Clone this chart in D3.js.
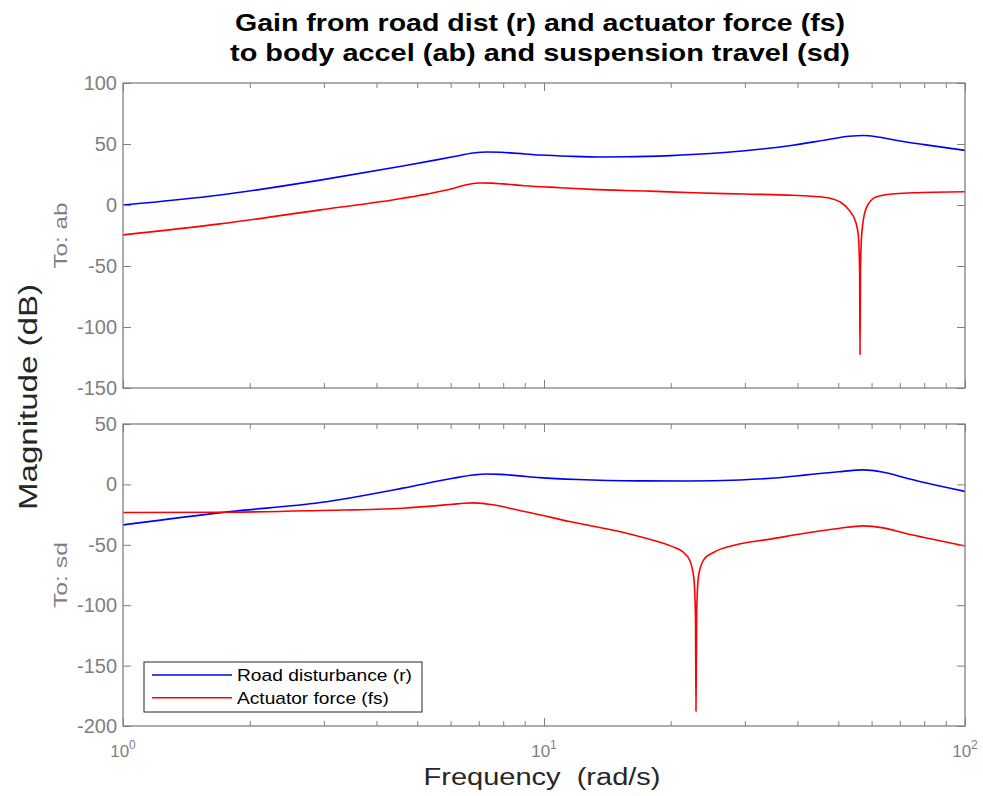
<!DOCTYPE html>
<html>
<head>
<meta charset="utf-8">
<script src="https://cdn.jsdelivr.net/npm/d3@7"></script>
<style>
  html, body { margin: 0; padding: 0; background: #fff; }
  svg { display: block; font-family: "Liberation Sans", Arial, Helvetica, sans-serif; }
</style>
</head>
<body>
<svg id="chart" width="983" height="796"></svg>
<script>
// ---------------- data ----------------
const titleLines = ["Gain from road dist (r) and actuator force (fs)",
                    "to body accel (ab) and suspension travel (sd)"];
const seriesNames = ["Road disturbance (r)", "Actuator force (fs)"];
const rowLabels = ["To: ab", "To: sd"];
const xLabel = "Frequency \u00a0(rad/s)";
const yLabel = "Magnitude (dB)";

const xMajorTicks = [1, 10, 100];
const xMajorExponents = ["0", "1", "2"];
const xMinorTicks = [2, 3, 4, 5, 6, 7, 8, 9, 20, 30, 40, 50, 60, 70, 80, 90];
const yTicksTop = [-150, -100, -50, 0, 50, 100];
const yTicksBottom = [-200, -150, -100, -50, 0, 50];

// To: ab, from r
const freqAbR = [1, 1.7, 2.94, 4.62, 6.08, 6.8, 7.3, 7.9, 8.5, 9.8, 11.5, 13.6, 15.7, 20, 24.8, 30, 39, 47, 53, 57.4, 62, 70, 80, 100];
const magAbR  = [0, 8.2, 20.4, 31.9, 39.5, 42.6, 43.4, 43.2, 42.5, 41, 40, 39.4, 39.5, 40.5, 42.2, 44.5, 49, 53.5, 56.3, 57, 55.8, 52.5, 49.5, 44.8];
// To: ab, from fs
const freqAbF = [1, 1.7, 2.94, 4.62, 6.08, 6.6, 7.05, 7.5, 8, 9, 10.9, 13, 17.8, 22.7, 30, 39, 44, 47.8, 50.5, 53, 55.0, 55.8, 56.2, 56.3, 56.45, 56.9, 58.2, 61.4, 67, 75, 100];
const magAbF  = [-24.5, -15.5, -4, 5.5, 13.6, 16.8, 18.0, 17.9, 17.3, 15.8, 14.2, 12.8, 11.4, 10, 9, 8, 7, 5.5, 2.5, -4, -14, -25, -55, -122.5, -55, -22, -3, 6.5, 9, 10, 10.9];
// To: sd, from r
const freqSdR = [1, 1.8, 2.94, 4.62, 6.08, 6.8, 7.3, 7.9, 8.5, 9.78, 12, 16.9, 22, 29.2, 36, 42, 50, 57.4, 64, 72, 80, 100];
const magSdR  = [-33.5, -22.5, -15, -3.1, 5.1, 7.8, 8.6, 8.3, 7.5, 5.6, 4, 2.9, 2.8, 3.7, 5.5, 7.9, 10.5, 12, 10, 5.5, 1.5, -5.8];
// To: sd, from fs
const freqSdF = [1, 1.8, 2.94, 4.62, 6.08, 6.45, 6.78, 7.15, 7.5, 8.5, 9.78, 11.5, 13, 15.1, 17, 18.5, 20.2, 21.3, 22.2, 22.7, 22.9, 22.96, 23.05, 23.3, 24, 25.2, 28.6, 34.5, 42, 50, 57.4, 64, 72, 80, 100];
const magSdF  = [-23.3, -23, -21.6, -19.7, -16.4, -15.6, -15.3, -15.7, -16.7, -20.5, -25.2, -30.7, -34.5, -39, -43.5, -47, -51.5, -55.5, -63, -78, -110, -187.8, -105, -75, -62, -56.6, -50, -45.3, -40.3, -36.5, -34.3, -36, -40.5, -44, -51];

const colors = ["#0000ff", "#ff0000"];

// ---------------- layout ----------------
const svg = d3.select("#chart");
const left = 123, right = 965;
const panels = [
  { top: 83, bottom: 388, domain: [-150, 100], ticks: yTicksTop, label: rowLabels[0],
    series: [[freqAbR, magAbR], [freqAbF, magAbF]], xLabels: false },
  { top: 424, bottom: 726, domain: [-200, 50], ticks: yTicksBottom, label: rowLabels[1],
    series: [[freqSdR, magSdR], [freqSdF, magSdF]], xLabels: true }
];

const x = d3.scaleLog().domain([1, 100]).range([left, right]);
const axisColor = "#808080";
const textGray = "#7f7f7f";

// title
titleLines.forEach((t, i) => {
  svg.append("text")
    .attr("x", 540).attr("y", 31 + i * 30)
    .attr("text-anchor", "middle")
    .attr("font-size", 24).attr("font-weight", "bold").attr("fill", "#000")
    .attr("textLength", i === 0 ? 610 : 620).attr("lengthAdjust", "spacingAndGlyphs")
    .text(t);
});

panels.forEach(p => {
  const y = d3.scaleLinear().domain(p.domain).range([p.bottom, p.top]);
  const g = svg.append("g");

  const clipId = "clip" + p.top;
  svg.append("clipPath").attr("id", clipId)
    .append("rect").attr("x", left).attr("y", p.top).attr("width", right - left).attr("height", p.bottom - p.top);

  const line = d3.line().x(d => x(d[0])).y(d => y(d[1])).curve(d3.curveMonotoneX);
  p.series.forEach((s, i) => {
    const pts = s[0].map((f, k) => [f, s[1][k]]);
    g.append("path").datum(pts)
      .attr("d", line)
      .attr("fill", "none")
      .attr("stroke", colors[i])
      .attr("stroke-width", 1.6)
      .attr("stroke-linejoin", "round")
      .attr("clip-path", `url(#${clipId})`);
  });

  const yl = g.append("g").attr("transform", `translate(${left},0)`)
    .call(d3.axisLeft(y).tickValues(p.ticks).tickSizeInner(-8).tickSizeOuter(0).tickPadding(6).tickFormat(d => String(d)));
  yl.select(".domain").remove();
  yl.selectAll("line").attr("stroke", axisColor);
  yl.selectAll("text").attr("font-size", 20).attr("fill", textGray).attr("font-family", "Liberation Sans, Arial, sans-serif");

  const yr = g.append("g").attr("transform", `translate(${right},0)`)
    .call(d3.axisRight(y).tickValues(p.ticks).tickSizeInner(-8).tickSizeOuter(0).tickFormat(""));
  yr.select(".domain").remove();
  yr.selectAll("line").attr("stroke", axisColor);

  [[p.bottom, d3.axisBottom], [p.top, d3.axisTop]].forEach(([yy, ax]) => {
    const gm = g.append("g").attr("transform", `translate(0,${yy})`)
      .call(ax(x).tickValues(xMajorTicks).tickSizeInner(-8).tickSizeOuter(0).tickFormat(""));
    gm.select(".domain").remove();
    gm.selectAll("line").attr("stroke", axisColor);
    const gn = g.append("g").attr("transform", `translate(0,${yy})`)
      .call(ax(x).tickValues(xMinorTicks).tickSizeInner(-5).tickSizeOuter(0).tickFormat(""));
    gn.select(".domain").remove();
    gn.selectAll("line").attr("stroke", axisColor);
  });

  g.append("rect").attr("x", left).attr("y", p.top)
    .attr("width", right - left).attr("height", p.bottom - p.top)
    .attr("fill", "none").attr("stroke", axisColor).attr("stroke-width", 1.3);

  const cy = (p.top + p.bottom) / 2;
  svg.append("text")
    .attr("transform", `translate(67,${cy}) rotate(-90)`)
    .attr("text-anchor", "middle")
    .attr("font-size", 19).attr("fill", textGray)
    .attr("textLength", 66).attr("lengthAdjust", "spacingAndGlyphs")
    .text(p.label);

  if (p.xLabels) {
    xMajorTicks.forEach((t, i) => {
      const txt = svg.append("text")
        .attr("x", x(t)).attr("y", 757)
        .attr("text-anchor", "middle")
        .attr("fill", textGray).attr("font-size", 17);
      txt.append("tspan").text("10");
      txt.append("tspan").attr("font-size", 12).attr("dy", -8).text(xMajorExponents[i]);
    });
  }
});

svg.append("text")
  .attr("x", 542).attr("y", 785)
  .attr("text-anchor", "middle")
  .attr("font-size", 23).attr("fill", "#262626")
  .attr("textLength", 237).attr("lengthAdjust", "spacingAndGlyphs")
  .text(xLabel);

svg.append("text")
  .attr("transform", `translate(37,397) rotate(-90)`)
  .attr("text-anchor", "middle")
  .attr("font-size", 26).attr("fill", "#262626")
  .attr("textLength", 226).attr("lengthAdjust", "spacingAndGlyphs")
  .text(yLabel);

const lg = svg.append("g");
lg.append("rect").attr("x", 144).attr("y", 662).attr("width", 278).attr("height", 50)
  .attr("fill", "#fff").attr("stroke", "#262626").attr("stroke-width", 1);
const legendLens = [175, 152];
seriesNames.forEach((n, i) => {
  const yy = 675 + i * 22.7;
  lg.append("line").attr("x1", 152).attr("x2", 232).attr("y1", yy).attr("y2", yy)
    .attr("stroke", colors[i]).attr("stroke-width", 1.6);
  lg.append("text").attr("x", 237).attr("y", yy + 6)
    .attr("font-size", 17).attr("fill", "#000")
    .attr("textLength", legendLens[i]).attr("lengthAdjust", "spacingAndGlyphs")
    .text(n);
});
</script>
</body>
</html>
